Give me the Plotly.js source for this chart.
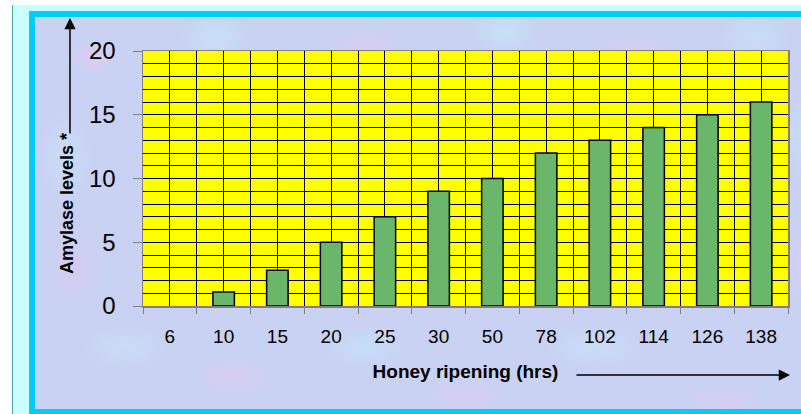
<!DOCTYPE html>
<html>
<head>
<meta charset="utf-8">
<script src="https://cdn.plot.ly/plotly-3.0.1.min.js"></script>
<style>
  html, body { margin: 0; padding: 0; width: 801px; height: 414px; overflow: hidden; background: #ffffff; }
  #teal { position: absolute; left: 12px; top: 5px; width: 1px; height: 409px; background: #4aa8a8; }
  #pale { position: absolute; left: 13px; top: 5px; width: 788px; height: 409px; background: #ccffff; }
  #frame {
    position: absolute; left: 29px; top: 11px; width: 782px; height: 392px;
    border-left: 6px solid #00ccff; border-top: 6px solid #00ccff; border-bottom: 5px solid #00ccff;
    background-color: #c9d2f3;
    background-image:
      radial-gradient(ellipse 40px 25px at 60px 40px, rgba(236,200,236,0.55), rgba(236,200,236,0) 70%),
      radial-gradient(ellipse 50px 30px at 180px 20px, rgba(200,236,250,0.6), rgba(200,236,250,0) 70%),
      radial-gradient(ellipse 60px 30px at 330px 30px, rgba(230,200,240,0.5), rgba(230,200,240,0) 70%),
      radial-gradient(ellipse 50px 30px at 470px 15px, rgba(200,236,250,0.6), rgba(200,236,250,0) 70%),
      radial-gradient(ellipse 60px 30px at 600px 35px, rgba(232,200,240,0.5), rgba(232,200,240,0) 70%),
      radial-gradient(ellipse 50px 35px at 720px 20px, rgba(200,230,250,0.6), rgba(200,230,250,0) 70%),
      radial-gradient(ellipse 40px 60px at 30px 140px, rgba(200,232,250,0.55), rgba(200,232,250,0) 70%),
      radial-gradient(ellipse 40px 60px at 40px 250px, rgba(225,195,240,0.5), rgba(225,195,240,0) 70%),
      radial-gradient(ellipse 60px 30px at 90px 330px, rgba(200,232,250,0.55), rgba(200,232,250,0) 70%),
      radial-gradient(ellipse 60px 30px at 200px 360px, rgba(232,200,240,0.5), rgba(232,200,240,0) 70%),
      radial-gradient(ellipse 60px 30px at 330px 330px, rgba(195,230,250,0.6), rgba(195,230,250,0) 70%),
      radial-gradient(ellipse 60px 30px at 430px 380px, rgba(232,200,240,0.5), rgba(232,200,240,0) 70%),
      radial-gradient(ellipse 70px 30px at 560px 330px, rgba(200,232,250,0.55), rgba(200,232,250,0) 70%),
      radial-gradient(ellipse 60px 30px at 690px 385px, rgba(232,200,240,0.5), rgba(232,200,240,0) 70%),
      radial-gradient(ellipse 30px 60px at 770px 120px, rgba(200,232,250,0.6), rgba(200,232,250,0) 70%),
      radial-gradient(ellipse 30px 60px at 770px 250px, rgba(225,205,245,0.6), rgba(225,205,245,0) 70%);
  }
  #chart { position: absolute; left: 0; top: 0; width: 801px; height: 414px; }
</style>
</head>
<body>
<div id="teal"></div>
<div id="pale"></div>
<div id="frame"></div>
<div id="chart"></div>
<script>
// ---- data ----
const hours = ["6", "10", "15", "20", "25", "30", "50", "78", "102", "114", "126", "138"];
const amylase = [null, 1.1, 2.8, 5, 7, 9, 10, 12, 13, 14, 15, 16];
const yTicks = [0, 5, 10, 15, 20];
const xTitle = "Honey ripening (hrs)";
const yTitle = "Amylase levels *";

const idx = hours.map((_, i) => i);
const bounds = hours.map((_, i) => i - 0.5).concat([hours.length - 0.5]);

const FONT = "Liberation Sans, Arial, sans-serif";

const trace = {
  type: "bar",
  x: idx,
  y: amylase,
  width: 0.4,
  marker: {
    color: "#6cbf6c",
    line: { color: "#000000", width: 1.5 },
    pattern: { shape: ".", fgcolor: "#3a8a3a", bgcolor: "#8fd88f", size: 2, solidity: 0.5 }
  },
  hoverinfo: "x+y"
};

const layout = {
  width: 801,
  height: 414,
  margin: { l: 143, r: 13, t: 51, b: 108 },
  paper_bgcolor: "rgba(0,0,0,0)",
  plot_bgcolor: "#ffff00",
  showlegend: false,
  bargap: 0.6,
  font: { family: FONT, color: "#000000" },
  xaxis: {
    range: [-0.5, hours.length - 0.5],
    tickmode: "array",
    tickvals: idx,
    ticktext: hours,
    ticks: "outside",
    ticklen: 13,
    tickcolor: "rgba(0,0,0,0)",
    tickfont: { family: FONT, size: 19, color: "#000000" },
    showgrid: true,
    gridcolor: "#000000",
    gridwidth: 1,
    minor: {
      tickmode: "array",
      tickvals: bounds,
      ticks: "outside",
      ticklen: 6,
      tickcolor: "#808080",
      tickwidth: 1,
      showgrid: true,
      gridcolor: "#000000",
      gridwidth: 1
    },
    showline: true,
    linecolor: "#808080",
    linewidth: 1.5,
    mirror: true,
    zeroline: false,
    fixedrange: true,
    title: {
      text: "<b>" + xTitle + "</b>",
      font: { family: FONT, size: 19, color: "#000000" },
      standoff: 18
    }
  },
  yaxis: {
    range: [0, 20],
    tickmode: "array",
    tickvals: yTicks,
    ticktext: yTicks.map(String),
    ticks: "outside",
    ticklen: 9,
    tickcolor: "#808080",
    tickwidth: 1,
    ticklabelstandoff: 12,
    tickfont: { family: FONT, size: 24, color: "#000000" },
    showgrid: true,
    gridcolor: "#000000",
    gridwidth: 1,
    minor: {
      dtick: 1,
      tick0: 0,
      showgrid: true,
      gridcolor: "#000000",
      gridwidth: 1,
      ticks: ""
    },
    showline: true,
    linecolor: "#808080",
    linewidth: 1.5,
    mirror: true,
    zeroline: false,
    fixedrange: true
  },
  annotations: [
    {
      xref: "paper", yref: "paper",
      x: -0.1178, y: 0.40,
      xanchor: "center", yanchor: "middle",
      text: "<b>" + yTitle + "</b>",
      textangle: -90,
      showarrow: false,
      font: { family: FONT, size: 18, color: "#000000" }
    },
    {
      xref: "paper", yref: "paper",
      x: -0.1132, y: 1.1294,
      text: "",
      showarrow: true,
      ax: 0, ay: 117,
      arrowhead: 2, arrowsize: 1.5, arrowwidth: 1.5, arrowcolor: "#000000"
    },
    {
      xref: "paper", yref: "paper",
      x: 1.0031, y: -0.2706,
      text: "",
      showarrow: true,
      ax: -215, ay: 0,
      arrowhead: 2, arrowsize: 1.5, arrowwidth: 1.5, arrowcolor: "#000000"
    }
  ]
};

Plotly.newPlot("chart", [trace], layout, { displayModeBar: false, staticPlot: true });
</script>
</body>
</html>
